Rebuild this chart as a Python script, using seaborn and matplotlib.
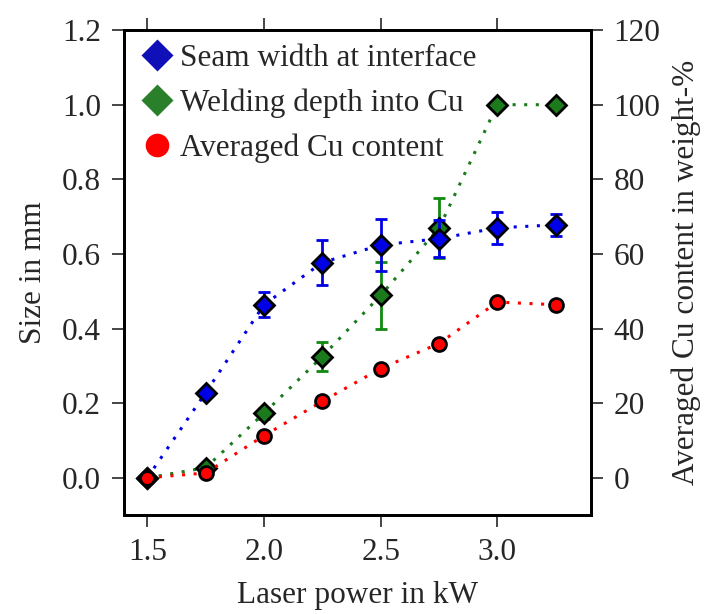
import matplotlib
matplotlib.use("Agg")
import matplotlib.pyplot as plt
from matplotlib.lines import Line2D
import seaborn as sns
import pandas as pd

power = [1.5, 1.75, 2.0, 2.25, 2.5, 2.75, 3.0, 3.25]
seam_width = [0.0, 0.228, 0.464, 0.577, 0.624, 0.641, 0.670, 0.678]
seam_err = [0.0, 0.0, 0.033, 0.060, 0.070, 0.049, 0.042, 0.030]
weld_depth = [0.0, 0.027, 0.173, 0.325, 0.489, 0.669, 1.0, 1.0]
weld_err = [0.0, 0.0, 0.015, 0.038, 0.090, 0.080, 0.0, 0.0]
cu_content = [0.0, 1.3, 11.3, 20.5, 29.3, 36.0, 47.1, 46.4]

blue = "#0000e6"
green = "#1b7a1b"
red = "#ff0000"

sns.set_style("ticks")
plt.rcParams["font.family"] = ["Liberation Serif", "DejaVu Serif"]

fig = plt.figure(figsize=(7.06, 6.14), dpi=100)
ax = fig.add_axes([0.1756, 0.161, 0.661, 0.790])
ax2 = ax.twinx()

df = pd.DataFrame({"power": power, "seam": seam_width, "depth": weld_depth,
                   "cu": cu_content})

dots = (0, (1, 2.8))
sns.lineplot(data=df, x="power", y="depth", ax=ax, color=green, lw=2.2,
             linestyle=dots, zorder=1)
sns.lineplot(data=df, x="power", y="seam", ax=ax, color=blue, lw=2.2,
             linestyle=dots, zorder=1)
ax.errorbar(power, weld_depth, yerr=weld_err, fmt="none", ecolor="#108a10",
            elinewidth=2, capsize=4.5, capthick=2, zorder=2)
ax.plot(power, weld_depth, "D", ms=10.5, mfc=green, mec="black", mew=2, zorder=3)
ax.errorbar(power, seam_width, yerr=seam_err, fmt="none", ecolor=blue,
            elinewidth=2, capsize=4.5, capthick=2, zorder=4)
ax.plot(power, seam_width, "D", ms=10.5, mfc=blue, mec="black", mew=2, zorder=5)

sns.lineplot(data=df, x="power", y="cu", ax=ax2, color=red, lw=2.2,
             linestyle=dots, zorder=1)
ax2.plot(power, cu_content, "o", ms=10, mfc=red, mec="black", mew=2, zorder=3)

ax.set_xlim(1.4, 3.4)
ax.set_ylim(-0.1, 1.2)
ax2.set_ylim(-10, 120)
ax.set_xticks([1.5, 2.0, 2.5, 3.0])
ax.set_yticks([0.0, 0.2, 0.4, 0.6, 0.8, 1.0, 1.2])
ax2.set_yticks([0, 20, 40, 60, 80, 100, 120])
ax.set_xticklabels(["1.5", "2.0", "2.5", "3.0"])
ax.set_yticklabels([f"{v:.1f}" for v in [0.0, 0.2, 0.4, 0.6, 0.8, 1.0, 1.2]])

fs = 22.5
ax.set_xlabel("Laser power in kW", fontsize=fs, labelpad=10)
ax.set_ylabel("Size in mm", fontsize=fs, labelpad=10)
ax2.set_ylabel("Averaged Cu content in weight-%", fontsize=fs, labelpad=8)

ax.tick_params(axis="both", direction="out", length=8.5, width=1.2,
               labelsize=fs, pad=8, top=True, right=False)
ax2.tick_params(axis="y", direction="out", length=8.5, width=1.2,
                labelsize=fs, pad=8)
for a in (ax, ax2):
    for s in a.spines.values():
        s.set_linewidth(2)
        s.set_visible(True)
        s.set_color("black")

handles = [
    Line2D([], [], ls="none", marker="D", ms=16, mfc="#1010b8", mec="none"),
    Line2D([], [], ls="none", marker="D", ms=16, mfc="#2a7f2a", mec="none"),
    Line2D([], [], ls="none", marker="o", ms=17, mfc=red, mec="none"),
]
labels = ["Seam width at interface", "Welding depth into Cu", "Averaged Cu content"]
ax2.legend(handles, labels, loc="upper left", frameon=False, fontsize=fs,
           handletextpad=0.15, labelspacing=0.5, borderaxespad=0.15,
           borderpad=0.3, handlelength=1.2)

fig.savefig("out.png", dpi=100)
